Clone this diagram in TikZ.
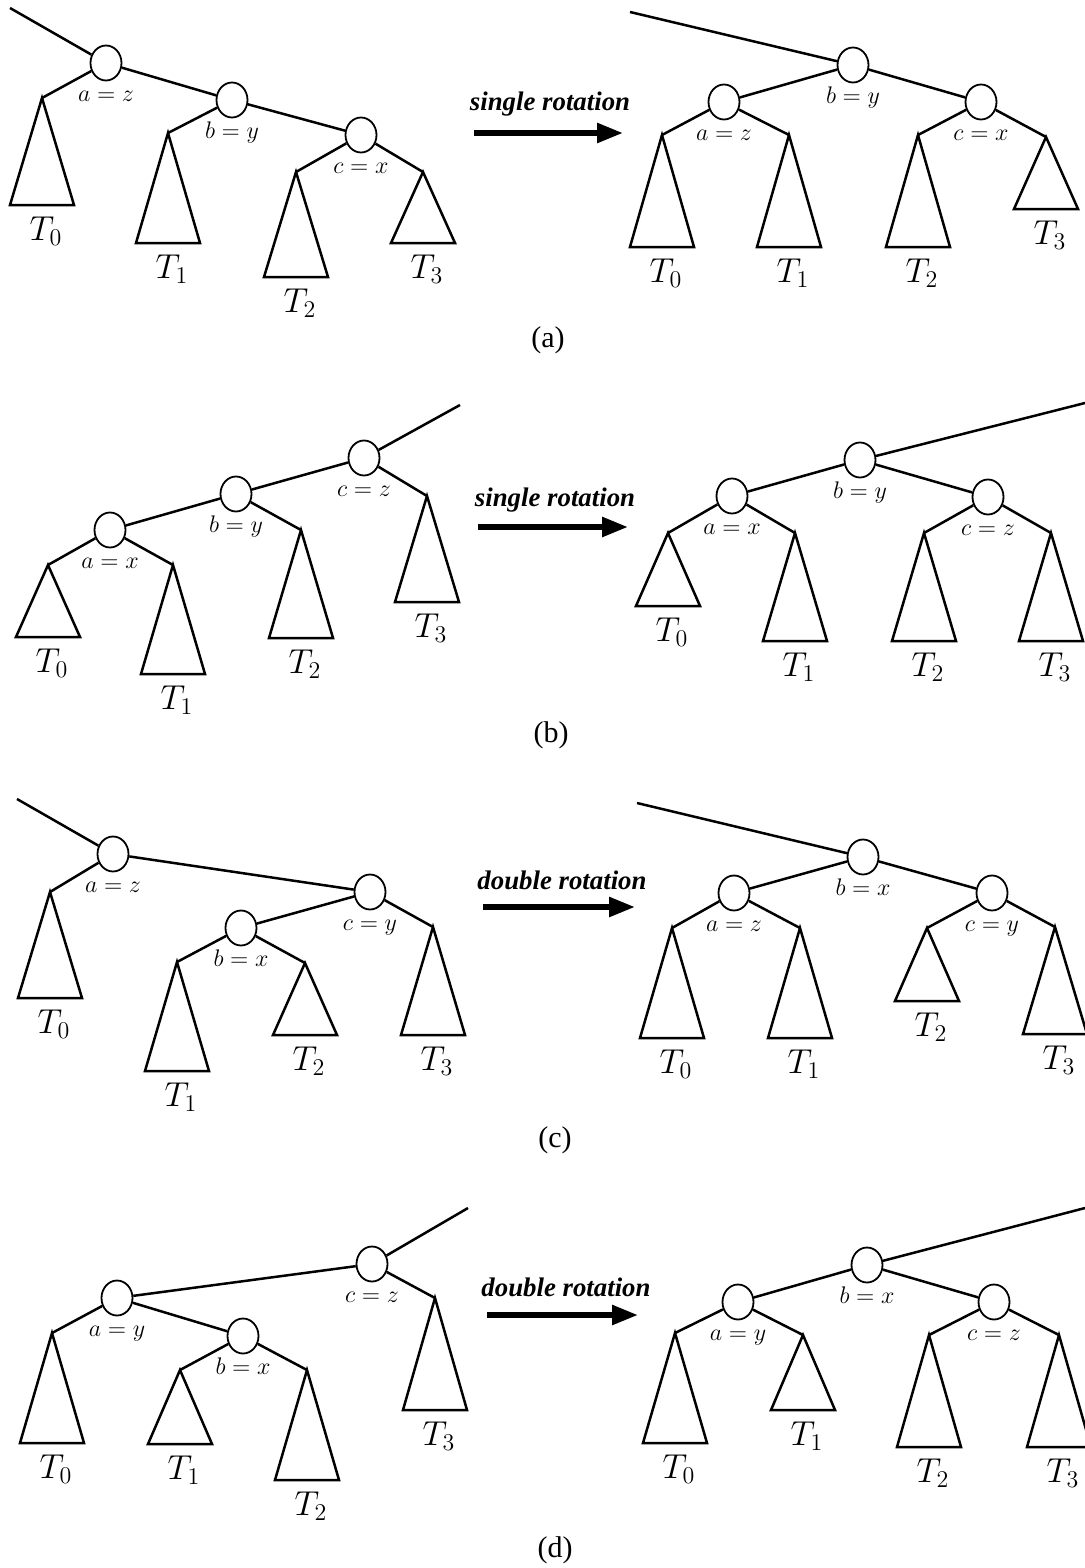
\documentclass[tikz,border=0pt]{standalone}
\usepackage{fontspec}
\setmainfont{Liberation Serif}
\usetikzlibrary{arrows.meta,positioning,shapes.geometric}

% subtree: apex name, apex position, height, index
\newcommand\subtree[4]{%
  \coordinate (#1) at (#2);
  \draw[tri] (#1) -- ++(-32,#3) -- ++(64,0) -- cycle;
  \path (#1) ++(4,#3+26) node[tlbl] (#1l) {$T_{#4}$};
}

\begin{document}
\begin{tikzpicture}[
  x=0.5pt, y=-0.5pt,
  vertex/.style={draw, ellipse, minimum width=15.5pt, minimum height=17.5pt, inner sep=0pt, line width=0.9pt},
  link/.style={line width=1.25pt},
  tri/.style={line width=1.25pt, line join=miter},
  lbl/.style={inner sep=0pt, text height=1.5ex, text depth=.25ex, font=\fontsize{12}{14}\selectfont},
  tlbl/.style={inner sep=0pt, font=\fontsize{16.5}{19}\selectfont},
  rotlbl/.style={inner sep=0pt, font=\fontsize{13.4}{16}\selectfont\bfseries\itshape},
  panel/.style={inner sep=0pt, font=\fontsize{15}{18}\selectfont},
  bigarrow/.style={-{Triangle[length=13pt,width=9.5pt]}, line width=2.8pt},
]
  \clip (0,0) rectangle (1085,1568);

  % (a) left
  \coordinate (aL-r) at (10,8);
  \node[vertex] (aL-a) at (106,63) {};
  \node[vertex] (aL-b) at (232,100) {};
  \node[vertex] (aL-c) at (361,135) {};
  \node[lbl, below=3.2pt of aL-a] (aL-la) {$a=z$};
  \node[lbl, below=3.2pt of aL-b] (aL-lb) {$b=y$};
  \node[lbl, below=3.2pt of aL-c] (aL-lc) {$c=x$};
  \subtree{aL-t0}{42,98}{107}{0}
  \subtree{aL-t1}{168,133}{110}{1}
  \subtree{aL-t2}{296,172}{105}{2}
  \subtree{aL-t3}{423,172}{71}{3}
  \draw[link] (aL-r) -- (aL-a);
  \draw[link] (aL-a) -- (aL-b);
  \draw[link] (aL-b) -- (aL-c);
  \draw[link] (aL-a) -- (aL-t0);
  \draw[link] (aL-b) -- (aL-t1);
  \draw[link] (aL-c) -- (aL-t2);
  \draw[link] (aL-c) -- (aL-t3);

  % (a) arrow
  \node[rotlbl] (rot-a) at (550,104) {single rotation};
  \coordinate (rot-a-s) at (474,133);
  \coordinate (rot-a-e) at (623,133);
  \draw[bigarrow] (rot-a-s) -- (rot-a-e);

  % (a) right
  \coordinate (aR-r) at (630,12);
  \node[vertex] (aR-b) at (853,65) {};
  \node[vertex] (aR-a) at (724,102) {};
  \node[vertex] (aR-c) at (981,102) {};
  \node[lbl, below=3.2pt of aR-a] (aR-la) {$a=z$};
  \node[lbl, below=3.2pt of aR-b] (aR-lb) {$b=y$};
  \node[lbl, below=3.2pt of aR-c] (aR-lc) {$c=x$};
  \subtree{aR-t0}{662,135}{112}{0}
  \subtree{aR-t1}{789,135}{112}{1}
  \subtree{aR-t2}{918,135}{112}{2}
  \subtree{aR-t3}{1046,137}{72}{3}
  \draw[link] (aR-r) -- (aR-b);
  \draw[link] (aR-b) -- (aR-a);
  \draw[link] (aR-b) -- (aR-c);
  \draw[link] (aR-a) -- (aR-t0);
  \draw[link] (aR-a) -- (aR-t1);
  \draw[link] (aR-c) -- (aR-t2);
  \draw[link] (aR-c) -- (aR-t3);

  \node[panel] (cap-a) at (548,340) {(a)};

  % (b) left
  \coordinate (bL-r) at (460,405);
  \node[vertex] (bL-c) at (364,458) {};
  \node[vertex] (bL-b) at (236,494) {};
  \node[vertex] (bL-a) at (110,530) {};
  \node[lbl, below=3.2pt of bL-a] (bL-la) {$a=x$};
  \node[lbl, below=3.2pt of bL-b] (bL-lb) {$b=y$};
  \node[lbl, below=3.2pt of bL-c] (bL-lc) {$c=z$};
  \subtree{bL-t0}{48,565}{72}{0}
  \subtree{bL-t1}{173,565}{109}{1}
  \subtree{bL-t2}{301,530}{108}{2}
  \subtree{bL-t3}{427,496}{106}{3}
  \draw[link] (bL-c) -- (bL-r);
  \draw[link] (bL-c) -- (bL-b);
  \draw[link] (bL-b) -- (bL-a);
  \draw[link] (bL-a) -- (bL-t0);
  \draw[link] (bL-a) -- (bL-t1);
  \draw[link] (bL-b) -- (bL-t2);
  \draw[link] (bL-c) -- (bL-t3);

  % (b) arrow
  \node[rotlbl] (rot-b) at (555,500) {single rotation};
  \coordinate (rot-b-s) at (478,527);
  \coordinate (rot-b-e) at (628,527);
  \draw[bigarrow] (rot-b-s) -- (rot-b-e);

  % (b) right
  \coordinate (bR-r) at (1085,403);
  \node[vertex] (bR-b) at (860,460) {};
  \node[vertex] (bR-a) at (732,496) {};
  \node[vertex] (bR-c) at (988,497) {};
  \node[lbl, below=3.2pt of bR-a] (bR-la) {$a=x$};
  \node[lbl, below=3.2pt of bR-b] (bR-lb) {$b=y$};
  \node[lbl, below=3.2pt of bR-c] (bR-lc) {$c=z$};
  \subtree{bR-t0}{668,533}{73}{0}
  \subtree{bR-t1}{795,533}{108}{1}
  \subtree{bR-t2}{924,533}{108}{2}
  \subtree{bR-t3}{1051,533}{108}{3}
  \draw[link] (bR-b) -- (bR-r);
  \draw[link] (bR-b) -- (bR-a);
  \draw[link] (bR-b) -- (bR-c);
  \draw[link] (bR-a) -- (bR-t0);
  \draw[link] (bR-a) -- (bR-t1);
  \draw[link] (bR-c) -- (bR-t2);
  \draw[link] (bR-c) -- (bR-t3);

  \node[panel] (cap-b) at (551,735) {(b)};

  % (c) left
  \coordinate (cL-r) at (17,799);
  \node[vertex] (cL-a) at (113,854) {};
  \node[vertex] (cL-c) at (370,892) {};
  \node[vertex] (cL-b) at (241,928) {};
  \node[lbl, below=3.2pt of cL-a] (cL-la) {$a=z$};
  \node[lbl, below=3.2pt of cL-b] (cL-lb) {$b=x$};
  \node[lbl, below=3.2pt of cL-c] (cL-lc) {$c=y$};
  \subtree{cL-t0}{50,892}{106}{0}
  \subtree{cL-t1}{177,962}{109}{1}
  \subtree{cL-t2}{305,963}{72}{2}
  \subtree{cL-t3}{433,927}{108}{3}
  \draw[link] (cL-r) -- (cL-a);
  \draw[link] (cL-a) -- (cL-c);
  \draw[link] (cL-c) -- (cL-b);
  \draw[link] (cL-a) -- (cL-t0);
  \draw[link] (cL-b) -- (cL-t1);
  \draw[link] (cL-b) -- (cL-t2);
  \draw[link] (cL-c) -- (cL-t3);

  % (c) arrow
  \node[rotlbl] (rot-c) at (562,880) {double rotation};
  \coordinate (rot-c-s) at (483,907);
  \coordinate (rot-c-e) at (635,907);
  \draw[bigarrow] (rot-c-s) -- (rot-c-e);

  % (c) right
  \coordinate (cR-r) at (637,803);
  \node[vertex] (cR-b) at (863,857) {};
  \node[vertex] (cR-a) at (734,893) {};
  \node[vertex] (cR-c) at (992,893) {};
  \node[lbl, below=3.2pt of cR-a] (cR-la) {$a=z$};
  \node[lbl, below=3.2pt of cR-b] (cR-lb) {$b=x$};
  \node[lbl, below=3.2pt of cR-c] (cR-lc) {$c=y$};
  \subtree{cR-t0}{672,928}{110}{0}
  \subtree{cR-t1}{800,928}{110}{1}
  \subtree{cR-t2}{927,928}{73}{2}
  \subtree{cR-t3}{1055,927}{107}{3}
  \draw[link] (cR-r) -- (cR-b);
  \draw[link] (cR-b) -- (cR-a);
  \draw[link] (cR-b) -- (cR-c);
  \draw[link] (cR-a) -- (cR-t0);
  \draw[link] (cR-a) -- (cR-t1);
  \draw[link] (cR-c) -- (cR-t2);
  \draw[link] (cR-c) -- (cR-t3);

  \node[panel] (cap-c) at (555,1140) {(c)};

  % (d) left
  \coordinate (dL-r) at (468,1208);
  \node[vertex] (dL-c) at (372,1264) {};
  \node[vertex] (dL-a) at (117,1298) {};
  \node[vertex] (dL-b) at (243,1336) {};
  \node[lbl, below=3.2pt of dL-a] (dL-la) {$a=y$};
  \node[lbl, below=3.2pt of dL-b] (dL-lb) {$b=x$};
  \node[lbl, below=3.2pt of dL-c] (dL-lc) {$c=z$};
  \subtree{dL-t0}{52,1333}{110}{0}
  \subtree{dL-t1}{180,1370}{74}{1}
  \subtree{dL-t2}{307,1370}{110}{2}
  \subtree{dL-t3}{435,1298}{112}{3}
  \draw[link] (dL-c) -- (dL-r);
  \draw[link] (dL-c) -- (dL-a);
  \draw[link] (dL-a) -- (dL-b);
  \draw[link] (dL-a) -- (dL-t0);
  \draw[link] (dL-b) -- (dL-t1);
  \draw[link] (dL-b) -- (dL-t2);
  \draw[link] (dL-c) -- (dL-t3);

  % (d) arrow
  \node[rotlbl] (rot-d) at (566,1287) {double rotation};
  \coordinate (rot-d-s) at (487,1315);
  \coordinate (rot-d-e) at (638,1315);
  \draw[bigarrow] (rot-d-s) -- (rot-d-e);

  % (d) right
  \coordinate (dR-r) at (1085,1208);
  \node[vertex] (dR-b) at (867,1265) {};
  \node[vertex] (dR-a) at (738,1302) {};
  \node[vertex] (dR-c) at (994,1302) {};
  \node[lbl, below=3.2pt of dR-a] (dR-la) {$a=y$};
  \node[lbl, below=3.2pt of dR-b] (dR-lb) {$b=x$};
  \node[lbl, below=3.2pt of dR-c] (dR-lc) {$c=z$};
  \subtree{dR-t0}{675,1333}{110}{0}
  \subtree{dR-t1}{803,1335}{75}{1}
  \subtree{dR-t2}{929,1335}{112}{2}
  \subtree{dR-t3}{1059,1335}{112}{3}
  \draw[link] (dR-b) -- (dR-r);
  \draw[link] (dR-b) -- (dR-a);
  \draw[link] (dR-b) -- (dR-c);
  \draw[link] (dR-a) -- (dR-t0);
  \draw[link] (dR-a) -- (dR-t1);
  \draw[link] (dR-c) -- (dR-t2);
  \draw[link] (dR-c) -- (dR-t3);

  \node[panel] (cap-d) at (555,1550) {(d)};
\end{tikzpicture}
\end{document}
